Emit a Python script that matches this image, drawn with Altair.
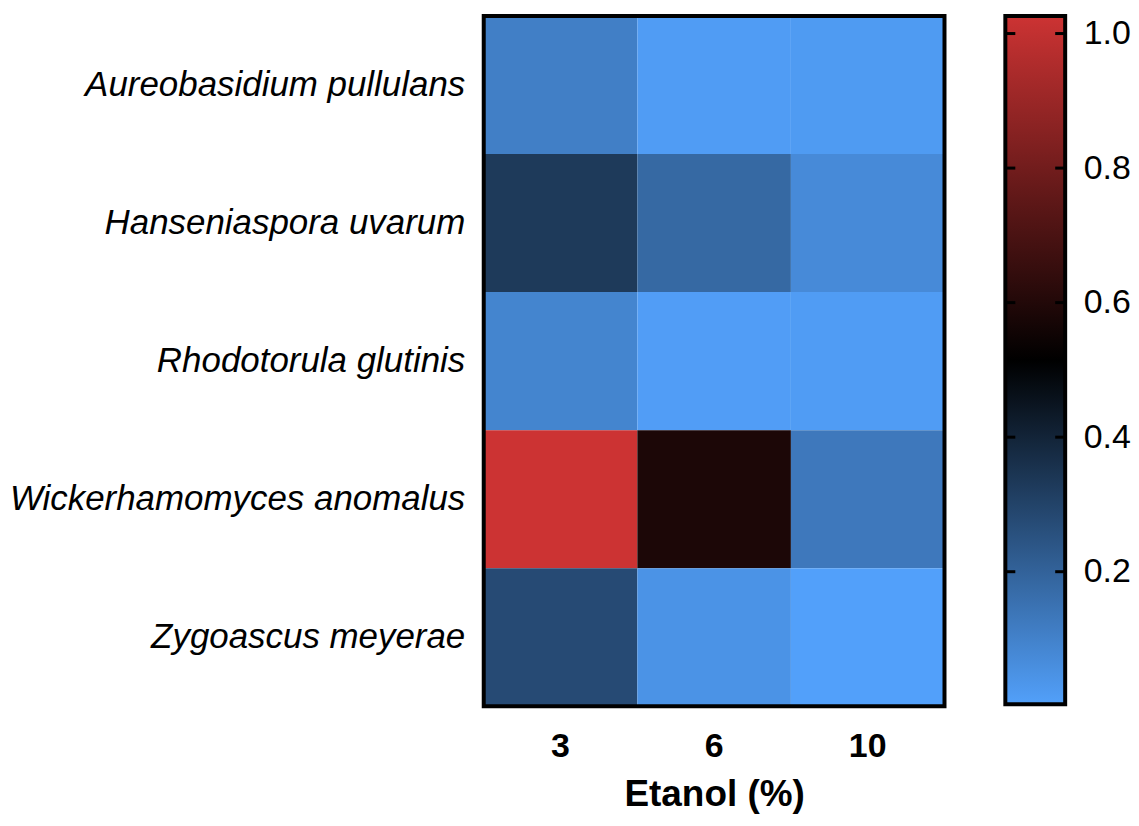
import altair as alt
import pandas as pd

FONT = "Liberation Sans"

species = [
    "Aureobasidium pullulans",
    "Hanseniaspora uvarum",
    "Rhodotorula glutinis",
    "Wickerhamomyces anomalus",
    "Zygoascus meyerae",
]
ethanol = ["3", "6", "10"]
v3 = [0.11, 0.33, 0.09, 1.026, 0.278]
v6 = [0.015, 0.18, 0.012, 0.585, 0.044]
v10 = [0.02, 0.073, 0.015, 0.13, 0.003]

scale_domain = [0.003, 0.5145, 1.026]
scale_colors = ["#52a0fa", "#000000", "#cc3333"]
bar_ticks = [0.2, 0.4, 0.6, 0.8, 1.0]

rows = []
for col, vals in zip(ethanol, [v3, v6, v10]):
    for s, v in zip(species, vals):
        rows.append({"species": s, "etanol": col, "value": v})
df = pd.DataFrame(rows)

HW, HH = 462, 692
BW, BH = 60, 690

heat = alt.Chart(df).mark_rect().encode(
    x=alt.X(
        "etanol:O", sort=ethanol, title="Etanol (%)",
        axis=alt.Axis(
            labelAngle=0, ticks=False, domain=False, labelFont=FONT,
            labelFontSize=34, labelFontWeight="bold", labelColor="black",
            labelPadding=23, titleFont=FONT, titleFontSize=37,
            titleFontWeight="bold", titleColor="black", titlePadding=14,
        ),
    ),
    y=alt.Y(
        "species:N", sort=species, title=None,
        axis=alt.Axis(
            ticks=False, domain=False, labelFont=FONT, labelFontSize=35,
            labelFontStyle="italic", labelColor="black", labelPadding=19,
            labelLimit=700,
        ),
    ),
    color=alt.Color(
        "value:Q",
        scale=alt.Scale(domain=scale_domain, range=scale_colors, interpolate="rgb"),
        legend=None,
    ),
)

border_df = pd.DataFrame({"k": [0]})
heat_border = alt.Chart(border_df).mark_rect(
    fill=None, stroke="black", strokeWidth=4
).encode(
    x=alt.value(0), x2=alt.value(HW), y=alt.value(0), y2=alt.value(HH)
)

heatmap = alt.layer(heat, heat_border).properties(width=HW, height=HH)

lo, hi = scale_domain[0], scale_domain[-1]
mid_off = (scale_domain[1] - lo) / (hi - lo)
bar_df = pd.DataFrame({"lo": [lo], "hi": [hi]})
ybar = alt.Scale(domain=[lo, hi], nice=False, zero=False)
bar_axis = alt.Axis(
    orient="right", values=bar_ticks, format=".1f", ticks=False, domain=False,
    grid=False, labelFont=FONT, labelFontSize=34, labelColor="black",
    labelPadding=18, title=None,
)

grad = alt.Chart(bar_df).mark_rect(
    color=alt.LinearGradient(
        gradient="linear",
        stops=[
            alt.GradientStop(offset=0, color=scale_colors[0]),
            alt.GradientStop(offset=mid_off, color=scale_colors[1]),
            alt.GradientStop(offset=1, color=scale_colors[2]),
        ],
        x1=0, x2=0, y1=1, y2=0,
    )
).encode(
    y=alt.Y("lo:Q", scale=ybar, axis=bar_axis),
    y2="hi:Q",
    x=alt.value(0),
    x2=alt.value(BW),
)

tick_df = pd.DataFrame({"t": bar_ticks})
tick_l = alt.Chart(tick_df).mark_rule(color="black", strokeWidth=3).encode(
    y=alt.Y("t:Q", scale=ybar, axis=bar_axis), x=alt.value(0), x2=alt.value(10)
)
tick_r = alt.Chart(tick_df).mark_rule(color="black", strokeWidth=3).encode(
    y=alt.Y("t:Q", scale=ybar, axis=bar_axis), x=alt.value(BW - 10), x2=alt.value(BW)
)
bar_border = alt.Chart(border_df).mark_rect(
    fill=None, stroke="black", strokeWidth=4
).encode(
    x=alt.value(0), x2=alt.value(BW), y=alt.value(0), y2=alt.value(BH)
)

colorbar = alt.layer(grad, tick_l, tick_r, bar_border).properties(width=BW, height=BH)

chart = alt.hconcat(heatmap, colorbar, spacing=55).properties(
    padding={"left": 0, "top": 4, "right": 0, "bottom": 0}
).configure_view(stroke=None).configure(background="white")

chart.save("out.html", embed_options={"renderer": "svg", "actions": False})
